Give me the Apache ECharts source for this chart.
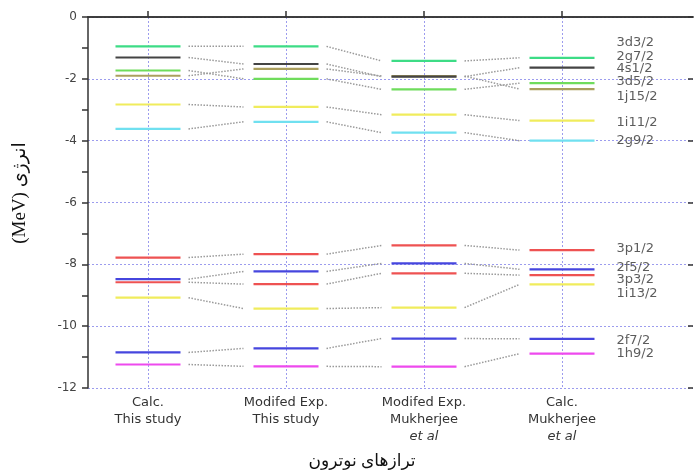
<!DOCTYPE html>
<html>
<head>
<meta charset="utf-8">
<script src="https://cdn.jsdelivr.net/npm/echarts@6/dist/echarts.min.js"></script>
<style>html,body{margin:0;padding:0;background:#fff;}#c{width:694px;height:472px;}</style>
</head>
<body>
<div id="c"></div>
<script>
// Column (category) labels
const catLine1 = ['Calc.', 'Modifed Exp.', 'Modifed Exp.', 'Calc.'];
const catLine2 = ['This study', 'This study', 'Mukherjee', 'Mukherjee'];
const catLine3 = ['', '', 'et al', 'et al'];

// Levels (one per drawn line series), energies in MeV for each column
const levelNames = ['3d3/2-2g7/2', '1j15/2', '4s1/2', '3d5/2', '1i11/2', '2g9/2',
                    '3p1/2', '2f5/2', '3p3/2', '1i13/2', '2f7/2', '1h9/2'];
const calcThis   = [-0.95, -1.90, -1.31, -1.73, -2.83, -3.62, -7.78, -8.48, -8.58, -9.08, -10.85, -11.24];
const modExpThis = [-0.95, -1.68, -1.52, -2.00, -2.91, -3.39, -7.67, -8.23, -8.64, -9.43, -10.72, -11.30];
const modExpMuk  = [-1.42, -1.91, -1.93, -2.34, -3.16, -3.74, -7.39, -7.97, -8.29, -9.40, -10.40, -11.31];
const calcMuk    = [-1.32, -2.33, -1.64, -2.14, -3.35, -4.00, -7.54, -8.16, -8.35, -8.65, -10.41, -10.89];
const columnValues = [calcThis, modExpThis, modExpMuk, calcMuk];

// Level labels on the right
const levelLabels = ['3d3/2', '2g7/2', '4s1/2', '3d5/2', '1j15/2', '1i11/2', '2g9/2',
                     '3p1/2', '2f5/2', '3p3/2', '1i13/2', '2f7/2', '1h9/2'];
const levelLabelY = [-0.82, -1.27, -1.68, -2.08, -2.59, -3.41, -4.00,
                     -7.48, -8.10, -8.49, -8.94, -10.48, -10.89];

// Y tick values
const yMin = -12, yMax = 0, yStep = 2;

// styles
const levelColors = ['#3ddc86', '#aa9f5e', '#444444', '#6fdc5c', '#f0ec5c', '#70e0f0',
                     '#ee5252', '#4646de', '#ee5252', '#f0ec5c', '#4646de', '#ee4aee'];
const xMin = 1 - 60 / 138, xMax = 1 + 545 / 138;
const halfW = 32.5 / 138;
const labelX = 1 + (616 - 148) / 138;
const colPos = [1, 2, 3, 4];

const chart = echarts.init(document.getElementById('c'), null, {renderer: 'canvas'});

const levelSeries = levelNames.map((name, li) => ({
  type: 'custom',
  name: name,
  xAxisIndex: 0,
  yAxisIndex: 0,
  z: 3,
  encode: {x: 0, y: 1},
  data: columnValues.map((arr, ci) => [colPos[ci], arr[li]]),
  renderItem: function (params, api) {
    const x = api.value(0), y = api.value(1);
    const p = api.coord([x, y]);
    const hw = api.size([halfW, 0])[0];
    const children = [{
      type: 'line',
      shape: {x1: p[0] - hw, y1: p[1], x2: p[0] + hw, y2: p[1]},
      style: {stroke: levelColors[li], lineWidth: 2.2},
      z2: 10
    }];
    const ci = params.dataIndex;
    if (ci < columnValues.length - 1) {
      const p2 = api.coord([colPos[ci + 1], columnValues[ci + 1][li]]);
      children.push({
        type: 'line',
        shape: {x1: p[0] + hw + 8, y1: p[1], x2: p2[0] - hw - 10, y2: p2[1]},
        style: {stroke: '#9a9a9a', lineWidth: 1.5, lineDash: [1.5, 1.5]},
        z2: 1
      });
    }
    return {type: 'group', children: children};
  }
}));

const option = {
  animation: false,
  backgroundColor: '#fff',
  grid: {left: 88, right: 1, top: 17, bottom: 84},
  xAxis: [{
    type: 'value', min: xMin, max: xMax, position: 'bottom',
    axisLine: {show: true, lineStyle: {color: '#333', width: 1.5}},
    axisTick: {show: true, customValues: colPos, inside: true, length: 6, lineStyle: {color: '#333', width: 1.5}},
    axisLabel: {
      show: true, customValues: colPos, margin: 6,
      formatter: function (v) {
        const i = Math.round(v) - 1;
        let s = '{n|' + catLine1[i] + '}\n{n|' + catLine2[i] + '}';
        if (catLine3[i]) s += '\n{i|' + catLine3[i] + '}';
        return s;
      },
      rich: {
        n: {fontFamily: 'DejaVu Sans', fontSize: 13, color: '#333', lineHeight: 17},
        i: {fontFamily: 'DejaVu Sans', fontSize: 13, color: '#333', lineHeight: 17, fontStyle: 'italic'}
      }
    },
    splitLine: {show: true, lineStyle: {color: '#9c9cee', type: [2, 2], width: 1}}
  }, {
    type: 'value', min: xMin, max: xMax, position: 'top',
    axisLine: {show: true, lineStyle: {color: '#333', width: 1.5}},
    axisTick: {show: false}, axisLabel: {show: false}, splitLine: {show: false}
  }],
  yAxis: [{
    type: 'value', min: yMin, max: yMax, interval: yStep, position: 'left',
    axisLine: {show: true, lineStyle: {color: '#333', width: 1.5}},
    axisTick: {show: true, length: 6, lineStyle: {color: '#333', width: 1.5}},
    minorTick: {show: true, splitNumber: 2, length: 6, lineStyle: {color: '#333', width: 1.5}},
    axisLabel: {fontFamily: 'DejaVu Sans', fontSize: 12, color: '#444', margin: 11},
    splitLine: {show: true, lineStyle: {color: '#9c9cee', type: [2, 2], width: 1}}
  }, {
    type: 'value', min: yMin, max: yMax, interval: yStep, position: 'right',
    axisLine: {show: false},
    axisTick: {show: true, inside: true, length: 5, lineStyle: {color: '#333', width: 1.5}},
    axisLabel: {show: false}, splitLine: {show: false}
  }],
  series: levelSeries.concat([{
    type: 'scatter',
    name: 'labels',
    symbolSize: 1,
    itemStyle: {color: 'rgba(0,0,0,0)'},
    data: levelLabels.map((t, i) => ({name: t, value: [labelX, levelLabelY[i]]})),
    label: {
      show: true, position: 'right', distance: 0, formatter: '{b}',
      fontFamily: 'DejaVu Sans', fontSize: 13, color: '#333'
    },
    z: 4
  }]),
  graphic: [{
    type: 'text', x: 20, y: 193, rotation: Math.PI / 2,
    style: {text: '(MeV) انرژی', font: '19px "Liberation Serif", "DejaVu Sans"', fill: '#111',
            textAlign: 'center', textVerticalAlign: 'middle'}
  }, {
    type: 'text', x: 362, y: 462,
    style: {text: 'ترازهای نوترون', font: '17px "Liberation Serif", "DejaVu Sans"', fill: '#111',
            textAlign: 'center', textVerticalAlign: 'middle'}
  }]
};
chart.setOption(option);
</script>
</body>
</html>
